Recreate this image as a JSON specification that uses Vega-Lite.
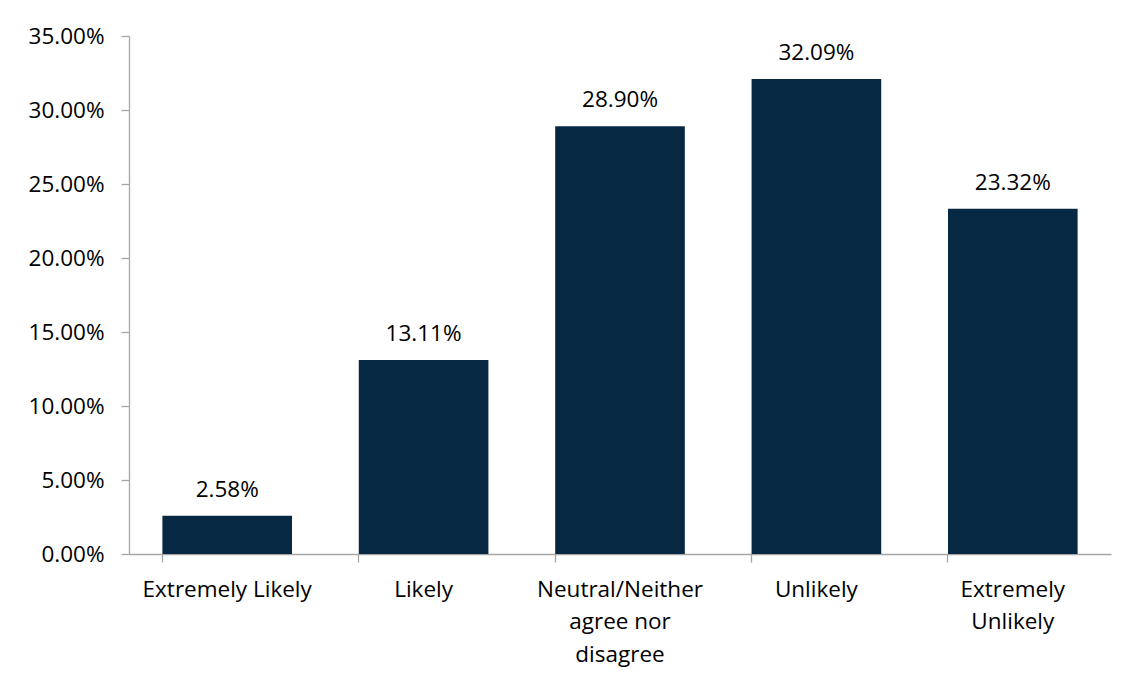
{
  "$schema": "https://vega.github.io/schema/vega-lite/v6.json",
  "autosize": {"type": "none"},
  "width": 982,
  "height": 518,
  "padding": {"left": 129, "top": 36, "right": 22, "bottom": 129},
  "background": "white",
  "config": {
    "view": {"stroke": null},
    "font": "Open Sans"
  },
  "data": {
    "values": [
      {"category": "Extremely Likely", "value": 0.0258},
      {"category": "Likely", "value": 0.1311},
      {"category": "Neutral/Neither agree nor disagree", "value": 0.2890},
      {"category": "Unlikely", "value": 0.3209},
      {"category": "Extremely Unlikely", "value": 0.2332}
    ]
  },
  "encoding": {
    "x": {
      "field": "category",
      "type": "nominal",
      "sort": null,
      "scale": {"paddingInner": 0.34, "paddingOuter": 0.17},
      "axis": {
        "title": null,
        "labelAngle": 0,
        "labelFont": "Open Sans",
        "labelFontSize": 22.5,
        "labelColor": "#000000",
        "labelPadding": 16,
        "labelLineHeight": 32.5,
        "labelBaseline": "top",
        "labelLimit": 0,
        "labelExpr": "datum.value == 'Neutral/Neither agree nor disagree' ? ['Neutral/Neither', 'agree nor', 'disagree'] : datum.value == 'Extremely Unlikely' ? ['Extremely', 'Unlikely'] : datum.value",
        "domainColor": "#A6A6A6",
        "domainWidth": 1.3,
        "tickColor": "#A6A6A6",
        "tickWidth": 1.3,
        "tickSize": 8,
        "bandPosition": 0,
        "grid": false
      }
    },
    "y": {
      "field": "value",
      "type": "quantitative",
      "scale": {"domain": [0, 0.35]},
      "axis": {
        "title": null,
        "format": ".2%",
        "values": [0, 0.05, 0.1, 0.15, 0.2, 0.25, 0.3, 0.35],
        "labelFont": "Open Sans",
        "labelFontSize": 22.5,
        "labelColor": "#000000",
        "labelPadding": 17,
        "domainColor": "#A6A6A6",
        "domainWidth": 1.3,
        "tickColor": "#A6A6A6",
        "tickWidth": 1.3,
        "tickSize": 8,
        "grid": false
      }
    }
  },
  "layer": [
    {"mark": {"type": "bar", "color": "#072842"}},
    {
      "mark": {"type": "text", "baseline": "bottom", "dy": -14, "font": "Open Sans", "fontSize": 22.5, "color": "#000000"},
      "encoding": {"text": {"field": "value", "type": "quantitative", "format": ".2%"}}
    }
  ]
}
